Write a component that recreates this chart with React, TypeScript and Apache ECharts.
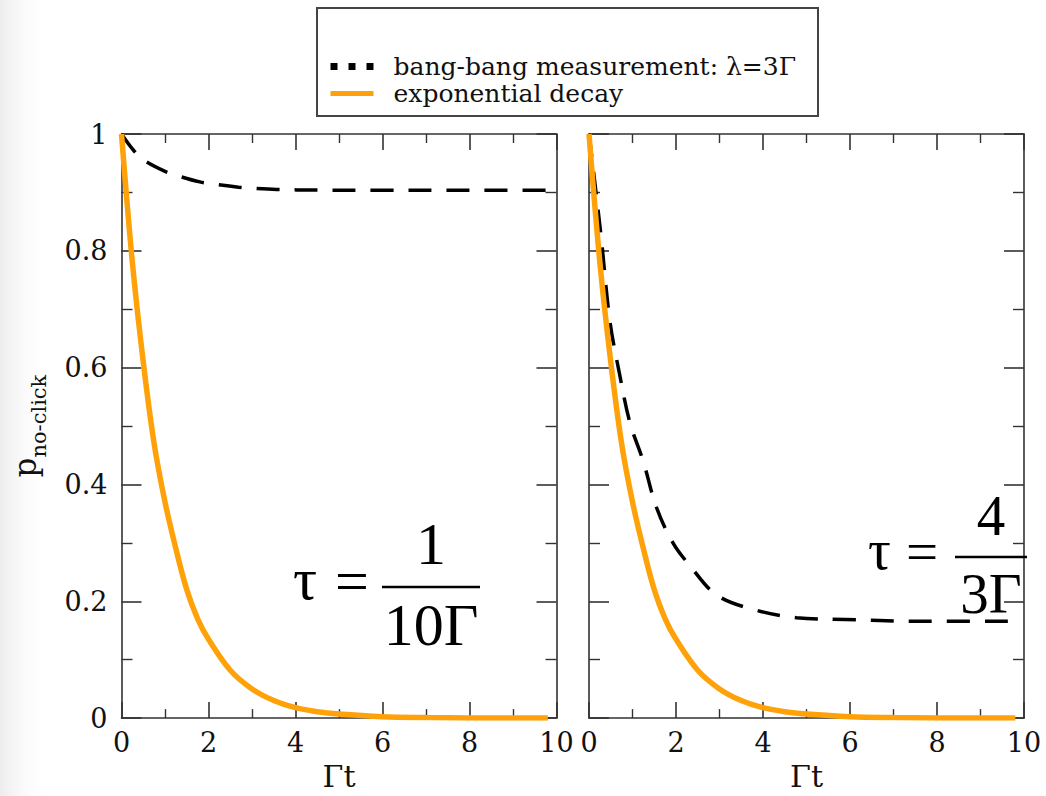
import React, { useEffect, useRef } from "react";
import * as echarts from "echarts";

// ---- data ----
const X_TICK_LABELS = ["0", "2", "4", "6", "8", "10"];
const Y_TICK_LABELS = ["0", "0.2", "0.4", "0.6", "0.8", "1"];

const DECAY_T = [0, 0.25, 0.5, 0.75, 1, 1.25, 1.5, 1.75, 2, 2.5, 3, 3.5, 4, 4.5, 5, 6, 7, 8, 9, 9.8];
const DECAY_P = [1, 0.78, 0.61, 0.47, 0.37, 0.29, 0.22, 0.17, 0.135, 0.082, 0.05, 0.03, 0.018, 0.011, 0.007, 0.0025, 0.001, 0.0003, 0.0001, 0];

const BB_LEFT_T = [0, 0.3, 0.54, 1.0, 1.27, 1.8, 2.15, 2.69, 3.03, 3.57, 4.5, 6, 8, 10];
const BB_LEFT_P = [1, 0.97, 0.954, 0.936, 0.929, 0.918, 0.914, 0.909, 0.907, 0.905, 0.904, 0.9035, 0.9035, 0.9035];

const BB_RIGHT_T = [0, 0.27, 0.48, 0.7, 0.94, 1.25, 1.55, 1.93, 2.32, 2.93, 3.78, 4.77, 5.9, 7.45, 9.7];
const BB_RIGHT_P = [1, 0.83, 0.68, 0.59, 0.506, 0.439, 0.361, 0.3, 0.261, 0.211, 0.186, 0.172, 0.169, 0.166, 0.166];

const LEGEND_BB = "bang-bang measurement: λ=3Γ";
const LEGEND_EXP = "exponential decay";

const pairs = (t: number[], v: number[]) => t.map((x, i) => [x, v[i]]);

const SERIF = '"DejaVu Serif", serif';
const TIMES = '"Liberation Serif", "Times New Roman", serif';
const AXIS_COLOR = "#333";
const ORANGE = "#FFA20A";

function xAxis(grid: number, pos: "bottom" | "top", labels: boolean) {
  return {
    type: "value",
    gridIndex: grid,
    position: pos,
    min: 0,
    max: 10,
    interval: 2,
    axisLine: { show: true, onZero: false, lineStyle: { color: AXIS_COLOR, width: 1.6 } },
    axisTick: { show: true, inside: true, length: 16, lineStyle: { color: AXIS_COLOR, width: 1.6 } },
    minorTick: { show: true, splitNumber: 2, length: 9, lineStyle: { color: AXIS_COLOR, width: 1.4 } },
    splitLine: { show: false },
    axisLabel: {
      show: labels,
      fontFamily: SERIF,
      fontSize: 27,
      color: "#111",
      margin: 11,
      formatter: (v: number) => X_TICK_LABELS[Math.round(v / 2)] ?? String(v),
    },
    name: labels ? "Γt" : "",
    nameLocation: "middle",
    nameGap: 33,
    nameTextStyle: { fontFamily: SERIF, fontSize: 30, color: "#111" },
  };
}

function yAxis(grid: number, pos: "left" | "right", labels: boolean) {
  return {
    type: "value",
    gridIndex: grid,
    position: pos,
    min: 0,
    max: 1,
    interval: 0.2,
    axisLine: { show: true, onZero: false, lineStyle: { color: AXIS_COLOR, width: 1.6 } },
    axisTick: { show: true, inside: true, length: 20, lineStyle: { color: AXIS_COLOR, width: 1.6 } },
    minorTick: { show: true, splitNumber: 2, length: 11, lineStyle: { color: AXIS_COLOR, width: 1.4 } },
    splitLine: { show: false },
    axisLabel: {
      show: labels,
      fontFamily: SERIF,
      fontSize: 27,
      color: "#111",
      margin: 14,
      formatter: (v: number) => Y_TICK_LABELS[Math.round(v * 5)] ?? String(v),
    },
    name: labels ? "{p|p}{s|no-click}" : "",
    nameLocation: "middle",
    nameRotate: 90,
    nameGap: 72,
    nameTextStyle: {
      color: "#111",
      rich: {
        p: { fontFamily: SERIF, fontSize: 31, lineHeight: 40, verticalAlign: "top", color: "#111" },
        s: { fontFamily: SERIF, fontSize: 21, lineHeight: 14, verticalAlign: "bottom", color: "#111" },
      },
    },
  };
}

function dashed(grid: number, data: number[][]) {
  return {
    type: "line",
    name: LEGEND_BB,
    xAxisIndex: grid * 2,
    yAxisIndex: grid * 2,
    data,
    showSymbol: false,
    symbol: "none",
    smooth: 0.35,
    lineStyle: { color: "#000", width: 3.5, type: [23, 15] },
    itemStyle: { color: "#000" },
    z: 2,
  };
}

function decay(grid: number, data: number[][]) {
  return {
    type: "line",
    name: LEGEND_EXP,
    xAxisIndex: grid * 2,
    yAxisIndex: grid * 2,
    data,
    showSymbol: false,
    symbol: "none",
    smooth: 0.35,
    lineStyle: { color: ORANGE, width: 5.5 },
    itemStyle: { color: ORANGE },
    z: 3,
  };
}

function fraction(
  tauX: number,
  eqX: number,
  barY: number,
  barX0: number,
  barX1: number,
  num: string,
  den: string,
  size: number
) {
  const cx = (barX0 + barX1) / 2;
  const font = { fontFamily: TIMES, fontSize: size, fill: "#000" };
  return [
    { type: "text", x: tauX, y: barY - 8, z: 20, style: { ...font, text: "τ", align: "left", verticalAlign: "middle" } },
    { type: "text", x: eqX, y: barY - 6, z: 20, style: { ...font, text: "=", align: "left", verticalAlign: "middle" } },
    { type: "line", z: 20, shape: { x1: barX0, y1: barY, x2: barX1, y2: barY }, style: { stroke: "#000", lineWidth: 2.5 } },
    { type: "text", x: cx, y: barY - size * 0.72, z: 20, style: { ...font, text: num, align: "center", verticalAlign: "middle" } },
    { type: "text", x: cx, y: barY + size * 0.64, z: 20, style: { ...font, text: den, align: "center", verticalAlign: "middle" } },
  ];
}

export default function App() {
  const ref = useRef<HTMLDivElement>(null);

  useEffect(() => {
    if (!ref.current) return;
    const chart = echarts.init(ref.current, undefined, { renderer: "svg" });
    const hidden = { color: "rgba(0,0,0,0)", borderWidth: 0, opacity: 0 };
    const option: any = {
      animation: false,
      backgroundColor: "#fff",
      grid: [
        { left: 121.5, top: 134, width: 435, height: 599 },
        { left: 589, top: 134, width: 435, height: 599 },
      ],
      xAxis: [xAxis(0, "bottom", true), xAxis(0, "top", false), xAxis(1, "bottom", true), xAxis(1, "top", false)],
      yAxis: [yAxis(0, "left", true), yAxis(0, "right", false), yAxis(1, "left", false), yAxis(1, "right", false)],
      legend: {
        orient: "vertical",
        left: 327,
        top: 53,
        itemWidth: 43,
        itemHeight: 14,
        itemGap: 0,
        selectedMode: false,
        z: 10,
        padding: 0,
        textStyle: { fontFamily: SERIF, fontSize: 25, lineHeight: 27, color: "#111", padding: [0, 0, 0, 15] },
        data: [
          { name: LEGEND_BB, lineStyle: { color: "#000", width: 7, type: [7, 11] }, itemStyle: hidden },
          { name: LEGEND_EXP, lineStyle: { color: ORANGE, width: 5 }, itemStyle: hidden },
        ],
      },
      series: [
        dashed(0, pairs(BB_LEFT_T, BB_LEFT_P)),
        decay(0, pairs(DECAY_T, DECAY_P)),
        dashed(1, pairs(BB_RIGHT_T, BB_RIGHT_P)),
        decay(1, pairs(DECAY_T, DECAY_P)),
      ],
      graphic: [
        {
          type: "rect",
          z: -10,
          shape: { x: 0, y: 0, width: 50, height: 796 },
          style: {
            fill: new echarts.graphic.LinearGradient(0, 0, 1, 0, [
              { offset: 0, color: "#ececec" },
              { offset: 1, color: "rgba(255,255,255,0)" },
            ]),
          },
        },
        {
          type: "rect",
          z: 1,
          shape: { x: 317, y: 8, width: 501, height: 108 },
          style: { fill: "#fff", stroke: "#444", lineWidth: 2 },
        },
        ...fraction(293, 335, 587, 382, 480, "1", "10Γ", 60),
        ...fraction(868, 906, 557, 955, 1027, "4", "3Γ", 57),
      ],
    };
    chart.setOption(option);
    return () => chart.dispose();
  }, []);

  return (
    <div
      ref={ref}
      style={{ position: "fixed", left: 0, top: 0, width: 1046, height: 796, background: "#fff" }}
    />
  );
}
